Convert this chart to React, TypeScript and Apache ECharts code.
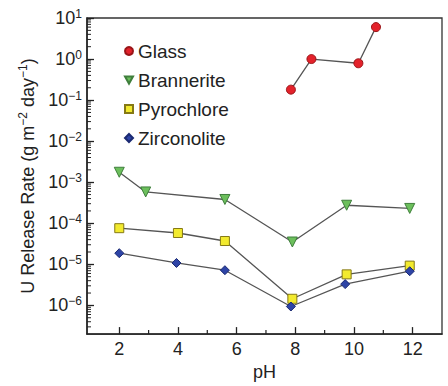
import React, { useEffect, useRef } from "react";
import * as echarts from "echarts";

const glassPH = [7.85, 8.55, 10.15, 10.75];
const glassRate = [0.18, 1.0, 0.79, 6.0];
const brannPH = [2.0, 2.9, 5.6, 7.9, 9.75, 11.9];
const brannRate = [1.75e-3, 5.8e-4, 3.8e-4, 3.5e-5, 2.75e-4, 2.3e-4];
const pyroPH = [2.0, 4.0, 5.6, 7.9, 9.75, 11.9];
const pyroRate = [7.6e-5, 5.8e-5, 3.7e-5, 1.45e-6, 5.7e-6, 9.3e-6];
const zircPH = [2.0, 3.95, 5.6, 7.85, 9.7, 11.9];
const zircRate = [1.87e-5, 1.08e-5, 7.2e-6, 9.4e-7, 3.3e-6, 6.8e-6];
const xTicks = [2, 4, 6, 8, 10, 12];
const xMinorTicks = [3, 5, 7, 9, 11];
const yMinorTicks: number[] = [];
for (let e = -7; e <= 0; e++) {
  for (let m = 2; m <= 9; m++) {
    const v = m * Math.pow(10, e);
    if (v > 2e-7 && v < 10) yMinorTicks.push(v);
  }
}

const X_MIN = 0.9;
const X_MAX = 13;
const Y_MIN = 2e-7;
const Y_MAX = 10;
const FONT = "'Liberation Sans', Arial, sans-serif";

const zip = (xs: number[], ys: number[]) => xs.map((x, i) => [x, ys[i]]);

export default function App() {
  const ref = useRef<HTMLDivElement>(null);
  useEffect(() => {
    if (!ref.current) return;
    document.body.style.margin = "0";
    const chart = echarts.init(ref.current, null, { renderer: "svg" });
    const lineStyle = { color: "#555", width: 1.3 };
    const mk = (name: string, data: number[][], symbol: string, fill: string, border: string, rotate = 0) => ({
      name,
      type: "line",
      data,
      symbol,
      symbolRotate: rotate,
      symbolSize: symbol === "triangle" ? 10 : 9,
      lineStyle,
      itemStyle: { color: fill, borderColor: border, borderWidth: 1 },
      z: 3,
    });
    const supFmt = (v: number) => {
      const e = Math.round(Math.log10(v));
      return `10{sup|${e < 0 ? "\u2212" + -e : e}}`;
    };
    chart.setOption({
      animation: false,
      textStyle: { fontFamily: FONT },
      grid: {
        left: 87,
        right: 6,
        top: 18,
        bottom: 45,
        show: true,
        borderColor: "#333",
        borderWidth: 1.3,
      },
      legend: {
        orient: "vertical",
        left: 124,
        top: 41,
        padding: 0,
        itemWidth: 8,
        itemHeight: 8,
        itemGap: 9,
        textStyle: { fontSize: 19, color: "#222", lineHeight: 20, fontFamily: FONT },
        data: [
          { name: "Glass", icon: "circle" },
          { name: "Brannerite", icon: "path://M0,0 L10,0 L5,9 Z" },
          { name: "Pyrochlore", icon: "rect" },
          { name: "Zirconolite", icon: "diamond" },
        ],
      },
      xAxis: {
        type: "value",
        min: X_MIN,
        max: X_MAX,
        name: "pH",
        nameLocation: "middle",
        nameGap: 26,
        nameTextStyle: { fontSize: 18, color: "#222", fontFamily: FONT },
        axisLine: { lineStyle: { color: "#222", width: 1.5 } },
        axisTick: { inside: true, length: 7, customValues: xTicks, lineStyle: { color: "#222", width: 1.3 } },
        axisLabel: { customValues: xTicks, fontSize: 18, color: "#222", margin: 6, fontFamily: FONT },
        splitLine: { show: false },
      },
      yAxis: {
        type: "log",
        logBase: 10,
        min: Y_MIN,
        max: Y_MAX,
        name: "U Release Rate (g m{sup|\u22122} day{sup|\u22121})",
        nameLocation: "middle",
        nameGap: 49,
        nameTextStyle: {
          fontSize: 18,
          color: "#222",
          fontFamily: FONT,
          rich: { sup: { fontSize: 12, color: "#222", padding: [0, 0, 9, 0], fontFamily: FONT } },
        },
        axisLine: { lineStyle: { color: "#222", width: 1.5 } },
        axisTick: { inside: true, length: 7, lineStyle: { color: "#222", width: 1.3 } },
        axisLabel: {
          showMinLabel: false,
          fontSize: 18,
          color: "#222",
          margin: 5,
          fontFamily: FONT,
          formatter: supFmt,
          rich: { sup: { fontSize: 12, color: "#222", padding: [0, 0, 9, 0], fontFamily: FONT } },
        },
        splitLine: { show: false },
      },
      series: [
        {
          type: "custom",
          silent: true,
          clip: false,
          data: yMinorTicks.map((v) => [X_MIN, v]),
          encode: { x: 0, y: 1 },
          renderItem: (_p: any, api: any) => {
            const pt = api.coord([api.value(0), api.value(1)]);
            return {
              type: "line",
              shape: { x1: pt[0], y1: pt[1], x2: pt[0] + 4, y2: pt[1] },
              style: { stroke: "#222", lineWidth: 1 },
            };
          },
          z: 2,
        },
        {
          type: "custom",
          silent: true,
          clip: false,
          data: xMinorTicks.map((v) => [v, Y_MIN]),
          encode: { x: 0, y: 1 },
          renderItem: (_p: any, api: any) => {
            const pt = api.coord([api.value(0), api.value(1)]);
            return {
              type: "line",
              shape: { x1: pt[0], y1: pt[1], x2: pt[0], y2: pt[1] - 4 },
              style: { stroke: "#222", lineWidth: 1.2 },
            };
          },
          z: 2,
        },
        mk("Glass", zip(glassPH, glassRate), "circle", "#e3222b", "#9a1518"),
        mk("Brannerite", zip(brannPH, brannRate), "triangle", "#6cbf5c", "#3f7f3c", 180),
        mk("Pyrochlore", zip(pyroPH, pyroRate), "rect", "#f2ea2e", "#857915"),
        mk("Zirconolite", zip(zircPH, zircRate), "diamond", "#2e44a6", "#1b2a72"),
      ],
    });
    return () => chart.dispose();
  }, []);
  return <div ref={ref} style={{ width: 448, height: 386 }} />;
}
